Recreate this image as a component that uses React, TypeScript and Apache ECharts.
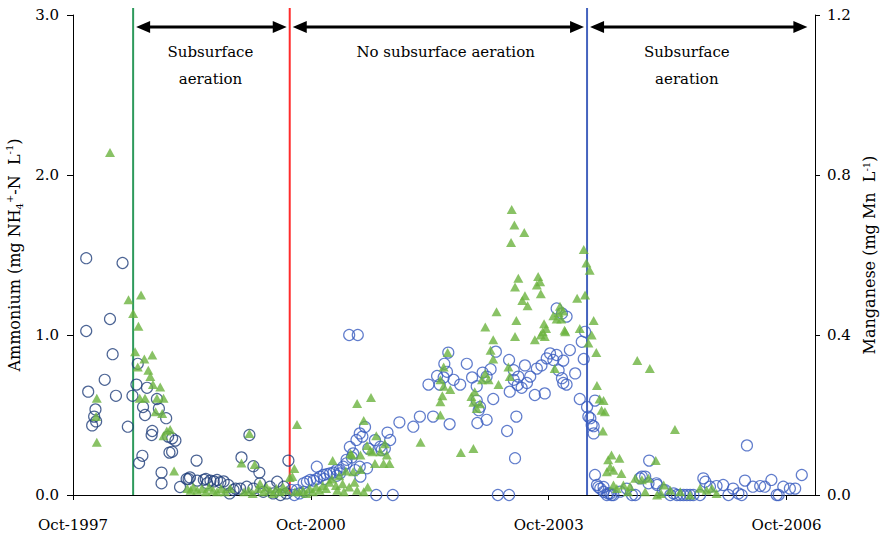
import React, { useEffect, useRef } from "react";
import * as echarts from "echarts";

// x values are months after Oct-1997
const X_MAX = 112.3;
const tickMonths = [0, 36, 72, 108];
const tickLabels = ["Oct-1997", "Oct-2000", "Oct-2003", "Oct-2006"];

// Period boundaries (months after Oct-1997)
const boundaryMonths = [9.1, 32.8, 77.8];
const boundaryColors = ["#2E9A5C", "#FF2B2B", "#4563BE"];
const periods = [
  [9.1, 32.8],
  [32.8, 77.8],
  [77.8, 111.6],
];
const periodLabels = ["Subsurface\naeration", "No subsurface aeration", "Subsurface\naeration"];
const periodLabelMonths = [20.8, 56.4, 92.9];

// Ammonium (mg NH4+-N/L), circles, before Oct-2000
const ammoniumEarly = [
  [2.0, 1.48], [2.0, 1.025], [2.3, 0.646], [2.9, 0.435], [3.2, 0.49], [3.4, 0.535], [3.5, 0.46],
  [4.8, 0.72], [5.6, 1.1], [6.0, 0.88], [6.5, 0.62], [7.5, 1.45], [8.3, 0.427], [9.0, 0.62],
  [9.6, 0.69], [9.8, 0.82], [10.0, 0.2], [10.5, 0.245], [10.6, 0.55], [10.9, 0.5], [11.2, 0.67],
  [11.9, 0.375], [12.0, 0.4], [12.7, 0.6], [13.0, 0.54], [13.4, 0.14], [13.4, 0.073], [14.1, 0.48],
  [14.4, 0.365], [14.6, 0.265], [15.0, 0.354], [15.0, 0.27], [15.5, 0.34], [16.2, 0.05], [17.2, 0.1],
  [17.5, 0.1], [17.7, 0.11], [18.7, 0.215], [18.8, 0.09], [19.8, 0.095], [20.1, 0.1], [20.3, 0.073],
  [20.8, 0.09], [21.3, 0.085], [21.8, 0.094], [22.3, 0.08], [22.8, 0.085], [23.5, 0.063], [23.7, 0.01],
  [24.3, 0.031], [24.6, 0.04], [25.3, 0.04], [25.5, 0.235], [26.3, 0.052], [26.7, 0.375], [27.3, 0.18],
  [27.3, 0.04], [28.2, 0.14], [28.3, 0.073], [28.8, 0.02], [29.8, 0.052], [30.3, 0.01], [30.9, 0.083],
  [31.4, 0.0], [31.9, 0.052], [32.3, 0.01], [32.6, 0.215],
];

// Ammonium, circles, from Oct-2000 on
const ammoniumLate = [
  [33.1, 0.031], [33.5, 0.0], [33.9, 0.031], [34.3, 0.01], [34.9, 0.073], [35.0, 0.02], [35.4, 0.083],
  [35.9, 0.094], [36.4, 0.09], [36.9, 0.177], [36.9, 0.1], [37.4, 0.115], [37.9, 0.125], [38.0, 0.1],
  [38.4, 0.13], [38.9, 0.135], [39.4, 0.14], [39.9, 0.156], [39.9, 0.12], [40.4, 0.135], [40.4, 0.156],
  [40.9, 0.177], [41.4, 0.22], [41.4, 0.198], [41.9, 0.3], [42.2, 0.235], [42.4, 0.26], [42.7, 0.156],
  [42.9, 0.344], [43.4, 0.385], [43.4, 0.177], [43.5, 0.115], [43.8, 0.365], [44.2, 0.425], [44.5, 0.167],
  [44.7, 0.29], [41.8, 1.0], [43.1, 1.0], [45.7, 0.343], [46.5, 0.302], [46.7, 0.28], [47.2, 0.29],
  [47.6, 0.39], [48.0, 0.344], [45.9, 0.0], [48.4, 0.0], [49.4, 0.454], [51.5, 0.427], [52.5, 0.49],
  [53.8, 0.69], [54.5, 0.49], [55.1, 0.744], [55.5, 0.69], [56.1, 0.735], [56.6, 0.77], [56.2, 0.82],
  [56.8, 0.89], [57.0, 0.443], [57.6, 0.72], [58.6, 0.69], [59.6, 0.82], [60.4, 0.735], [61.1, 0.68],
  [61.1, 0.59], [61.4, 0.53], [61.6, 0.55], [61.2, 0.45], [62.0, 0.765], [62.6, 0.74], [62.6, 0.47],
  [63.2, 0.786], [63.6, 0.6], [64.0, 0.896], [64.3, 0.0], [65.7, 0.4], [66.0, 0.0], [66.0, 0.844],
  [66.1, 0.646], [66.7, 0.78], [66.7, 0.72], [66.9, 0.23], [67.1, 0.49], [67.3, 0.688], [67.4, 0.74],
  [67.9, 0.67], [68.4, 0.81], [68.7, 0.7], [69.2, 0.74], [69.9, 0.625], [70.2, 0.79], [70.9, 0.81],
  [71.4, 0.635], [71.7, 0.854], [72.2, 0.885], [72.7, 0.844], [73.2, 0.875], [73.2, 1.166], [73.5, 0.78],
  [74.0, 0.73], [74.0, 1.135], [74.2, 0.7], [74.2, 0.84], [74.7, 0.69], [74.7, 1.115], [75.2, 0.906],
  [76.0, 0.76], [76.7, 0.6], [77.0, 0.958], [77.3, 0.85], [77.5, 1.02], [77.8, 0.55], [78.0, 0.49],
  [78.3, 0.48], [78.5, 0.437], [78.8, 0.385], [78.8, 0.43], [79.0, 0.59], [79.0, 0.125], [79.3, 0.063],
  [79.5, 0.05], [79.8, 0.04], [80.3, 0.05], [80.3, 0.02], [80.8, 0.0], [81.0, 0.01], [81.3, 0.01],
  [81.5, 0.0], [81.8, 0.0], [82.8, 0.021], [83.8, 0.04], [84.6, 0.0], [85.1, 0.0], [85.8, 0.104],
  [86.1, 0.115], [86.6, 0.115], [87.1, 0.073], [87.2, 0.215], [88.3, 0.073], [88.4, 0.063], [89.3, 0.031],
  [89.6, 0.031], [90.4, 0.0], [90.9, 0.01], [91.4, 0.0], [91.9, 0.0], [92.4, 0.0], [92.9, 0.0], [93.4, 0.0],
  [93.9, 0.0], [94.9, 0.0], [95.4, 0.104], [95.7, 0.083], [96.4, 0.052], [97.4, 0.056], [98.4, 0.0625],
  [99.2, 0.0], [99.9, 0.04], [100.7, 0.01], [101.2, 0.0], [101.7, 0.09], [102.0, 0.31], [102.9, 0.052],
  [104.0, 0.056], [104.7, 0.052], [105.7, 0.094], [106.5, 0.0], [106.8, 0.0], [107.5, 0.052],
  [108.5, 0.04], [109.3, 0.04], [110.3, 0.125],
];

// Manganese (mg Mn/L), triangles
const manganese = [
  [3.6, 0.242], [3.5, 0.196], [3.6, 0.132], [5.6, 0.856], [8.4, 0.488], [9.1, 0.454], [9.4, 0.358],
  [9.8, 0.32], [9.9, 0.422], [10.1, 0.242], [10.3, 0.5], [10.8, 0.34], [10.9, 0.242], [11.4, 0.312],
  [11.7, 0.296], [12.0, 0.35], [12.1, 0.276], [12.5, 0.208], [12.7, 0.242], [13.2, 0.27], [13.5, 0.204],
  [13.7, 0.242], [13.7, 0.148], [14.2, 0.16], [14.7, 0.164], [15.3, 0.06], [17.3, 0.016], [17.8, 0.012],
  [18.2, 0.02], [18.8, 0.012], [19.5, 0.016], [20.1, 0.008], [20.6, 0.02], [21.2, 0.012], [21.8, 0.008],
  [22.4, 0.016], [23.0, 0.008], [23.8, 0.016], [25.5, 0.08], [26.7, 0.154], [27.5, 0.076], [25.9, 0.008],
  [26.6, 0.012], [27.2, 0.004], [28.0, 0.016], [28.3, 0.029], [28.8, 0.008], [29.3, 0.02], [29.8, 0.012],
  [30.3, 0.004], [30.8, 0.016], [31.3, 0.008], [31.8, 0.02], [32.3, 0.012], [32.8, 0.044], [33.2, 0.046],
  [33.5, 0.066], [33.9, 0.176], [33.6, 0.008], [34.2, 0.008], [34.8, 0.012], [35.3, 0.004], [35.8, 0.016],
  [36.3, 0.008], [36.8, 0.02], [37.3, 0.012], [37.8, 0.024], [38.3, 0.016], [38.8, 0.032], [39.3, 0.086],
  [39.2, 0.04], [39.8, 0.024], [40.3, 0.048], [40.8, 0.028], [41.3, 0.06], [41.8, 0.02], [42.0, 0.104],
  [42.2, 0.1], [42.4, 0.058], [43.0, 0.229], [43.5, 0.064], [43.5, 0.1], [44.0, 0.186], [44.5, 0.124],
  [45.0, 0.112], [45.1, 0.244], [45.3, 0.108], [45.7, 0.079], [45.9, 0.148], [46.5, 0.108], [47.0, 0.079],
  [47.2, 0.128], [47.5, 0.1], [47.9, 0.079], [44.0, 0.008], [44.6, 0.02], [43.0, 0.012], [42.6, 0.032],
  [41.0, 0.008], [40.0, 0.012], [52.6, 0.132], [55.6, 0.2], [55.6, 0.233], [55.9, 0.248], [55.6, 0.288],
  [56.1, 0.272], [56.1, 0.32], [56.7, 0.356], [57.1, 0.264], [58.7, 0.106], [60.6, 0.116], [60.3, 0.246],
  [60.8, 0.258], [60.6, 0.232], [61.1, 0.216], [61.6, 0.228], [61.9, 0.288], [62.4, 0.304], [62.9, 0.288],
  [62.4, 0.42], [63.6, 0.388], [63.2, 0.362], [63.6, 0.34], [64.1, 0.458], [64.4, 0.276], [65.9, 0.32],
  [66.1, 0.296], [66.9, 0.396], [67.1, 0.436], [66.4, 0.714], [66.8, 0.675], [68.3, 0.656], [66.3, 0.631],
  [67.4, 0.542], [66.9, 0.52], [70.4, 0.546], [70.2, 0.525], [70.7, 0.533], [70.8, 0.503], [68.4, 0.498],
  [68.0, 0.486], [68.8, 0.473], [69.9, 0.388], [70.8, 0.4], [71.1, 0.408], [71.4, 0.396], [71.6, 0.416],
  [71.3, 0.428], [72.9, 0.316], [72.7, 0.448], [73.2, 0.44], [73.5, 0.456], [73.7, 0.472], [73.9, 0.44],
  [74.2, 0.46], [74.4, 0.412], [74.5, 0.408], [76.3, 0.492], [76.7, 0.416], [77.3, 0.614], [77.7, 0.58],
  [78.2, 0.562], [77.5, 0.5], [78.0, 0.38], [78.8, 0.436], [78.5, 0.4], [79.2, 0.356], [79.3, 0.274],
  [79.7, 0.24], [80.3, 0.236], [80.0, 0.212], [80.5, 0.208], [80.2, 0.16], [81.5, 0.1], [81.0, 0.088],
  [82.7, 0.092], [81.3, 0.07], [80.8, 0.058], [81.8, 0.062], [83.0, 0.054], [85.4, 0.336], [87.3, 0.316],
  [91.1, 0.164], [88.2, 0.086], [81.8, 0.025], [83.3, 0.025], [84.3, 0.021], [85.1, 0.042], [86.1, 0.038],
  [87.1, 0.042], [89.4, 0.025], [90.4, 0.012], [88.4, 0.0], [91.9, 0.008], [93.4, 0.0], [94.9, 0.017],
  [95.9, 0.012], [96.7, 0.017], [97.4, 0.004], [82.3, 0.016], [84.0, 0.008], [86.6, 0.008], [89.0, 0.004],
];

const FONT = '"DejaVu Serif", "Liberation Serif", serif';
const Y_MAX = 3;

export default function App() {
  const ref = useRef<HTMLDivElement>(null);

  useEffect(() => {
    if (!ref.current) return;
    const chart = echarts.init(ref.current, null, { renderer: "svg" });

    const axisCommon = {
      axisLine: { show: true, lineStyle: { color: "#000", width: 1 } },
      splitLine: { show: false },
      axisLabel: { color: "#000", fontFamily: FONT, fontSize: 15 },
    };

    const option: any = {
      animation: false,
      backgroundColor: "#fff",
      grid: {
        left: 73,
        right: 66,
        top: 15,
        bottom: 44,
        containLabel: false,
        outerBoundsMode: "none",
      },
      xAxis: {
        type: "value",
        min: 0,
        max: X_MAX,
        ...axisCommon,
        axisTick: {
          show: true,
          length: 5,
          customValues: tickMonths,
          lineStyle: { color: "#000" },
        },
        axisLabel: {
          ...axisCommon.axisLabel,
          customValues: tickMonths,
          margin: 22,
          formatter: (v: number) => {
            const i = tickMonths.indexOf(Math.round(v));
            return i >= 0 ? tickLabels[i] : "";
          },
        },
      },
      yAxis: [
        {
          type: "value",
          min: 0,
          max: Y_MAX,
          interval: 1,
          position: "left",
          ...axisCommon,
          axisTick: { show: true, length: 6, lineStyle: { color: "#000" } },
          axisLabel: {
            ...axisCommon.axisLabel,
            margin: 14,
            formatter: (v: number) => v.toFixed(1),
          },
          name: "Ammonium (mg NH{sub|4}{sup|+}-N  L{sup|-1})",
          nameLocation: "middle",
          nameRotate: 90,
          nameGap: 45,
          nameTextStyle: {
            color: "#000",
            fontFamily: FONT,
            fontSize: 16,
            lineHeight: 20,
            rich: {
              sub: { fontFamily: FONT, fontSize: 10, verticalAlign: "bottom", color: "#000" },
              sup: { fontFamily: FONT, fontSize: 10, verticalAlign: "top", color: "#000" },
            },
          },
        },
        {
          type: "value",
          min: 0,
          max: 1.2,
          interval: 0.4,
          position: "right",
          ...axisCommon,
          axisTick: { show: true, length: 5, lineStyle: { color: "#000" } },
          axisLabel: {
            ...axisCommon.axisLabel,
            margin: 12,
            formatter: (v: number) => v.toFixed(1),
          },
          name: "Manganese (mg Mn  L{sup|-1})",
          nameLocation: "middle",
          nameRotate: 90,
          nameGap: 46,
          nameTextStyle: {
            color: "#000",
            fontFamily: FONT,
            fontSize: 16,
            lineHeight: 16,
            rich: {
              sup: { fontFamily: FONT, fontSize: 10, lineHeight: 16, verticalAlign: "top", color: "#000" },
            },
          },
        },
      ],
      series: [
        {
          type: "custom",
          name: "boundaries",
          silent: true,
          clip: false,
          z: 1,
          data: boundaryMonths.map((m) => [m, 0]),
          encode: { x: 0, y: 1 },
          renderItem: (params: any, api: any) => {
            const x = api.value(0);
            const b = api.coord([x, 0]);
            const t = api.coord([x, Y_MAX]);
            return {
              type: "line",
              shape: { x1: b[0], y1: b[1], x2: b[0], y2: t[1] - 7 },
              style: { stroke: boundaryColors[params.dataIndex], lineWidth: 2 },
            };
          },
        },
        {
          type: "scatter",
          name: "Ammonium",
          silent: true,
          z: 2,
          yAxisIndex: 0,
          symbol: "circle",
          symbolSize: 11,
          itemStyle: { color: "rgba(0,0,0,0)", borderColor: "#213E7A", borderWidth: 1.2 },
          data: ammoniumEarly,
        },
        {
          type: "scatter",
          name: "Ammonium",
          silent: true,
          z: 2,
          yAxisIndex: 0,
          symbol: "circle",
          symbolSize: 11,
          itemStyle: { color: "rgba(0,0,0,0)", borderColor: "#3A5CBF", borderWidth: 1.2 },
          data: ammoniumLate,
        },
        {
          type: "scatter",
          name: "Manganese",
          silent: true,
          z: 3,
          yAxisIndex: 1,
          symbol: "triangle",
          symbolSize: [10, 9],
          itemStyle: { color: "#6CB33F" },
          data: manganese,
        },
        {
          type: "custom",
          name: "periods",
          silent: true,
          clip: false,
          z: 4,
          data: periods.map((p) => [p[0], p[1], Y_MAX]),
          encode: { x: [0, 1], y: 2 },
          renderItem: (params: any, api: any) => {
            const i = params.dataIndex;
            const p1 = api.coord([api.value(0), Y_MAX]);
            const p2 = api.coord([api.value(1), Y_MAX]);
            const y = p1[1] + 12;
            const x1 = p1[0] + 3;
            const x2 = p2[0] - 3;
            const head = 14;
            const hw = 6;
            const lx = api.coord([periodLabelMonths[i], Y_MAX])[0];
            return {
              type: "group",
              children: [
                {
                  type: "line",
                  shape: { x1: x1 + head - 2, y1: y, x2: x2 - head + 2, y2: y },
                  style: { stroke: "#000", lineWidth: 3 },
                },
                {
                  type: "polygon",
                  shape: { points: [[x1, y], [x1 + head, y - hw], [x1 + head, y + hw]] },
                  style: { fill: "#000" },
                },
                {
                  type: "polygon",
                  shape: { points: [[x2, y], [x2 - head, y - hw], [x2 - head, y + hw]] },
                  style: { fill: "#000" },
                },
                {
                  type: "text",
                  x: lx,
                  y: p1[1] + 23.5,
                  style: {
                    text: periodLabels[i],
                    fill: "#000",
                    fontFamily: FONT,
                    fontSize: 15,
                    lineHeight: 27,
                    align: "center",
                    verticalAlign: "top",
                  },
                },
              ],
            };
          },
        },
      ],
    };

    chart.setOption(option);
    return () => chart.dispose();
  }, []);

  return (
    <div
      ref={ref}
      style={{ position: "fixed", left: 0, top: 0, width: 881, height: 539, background: "#fff" }}
    />
  );
}
